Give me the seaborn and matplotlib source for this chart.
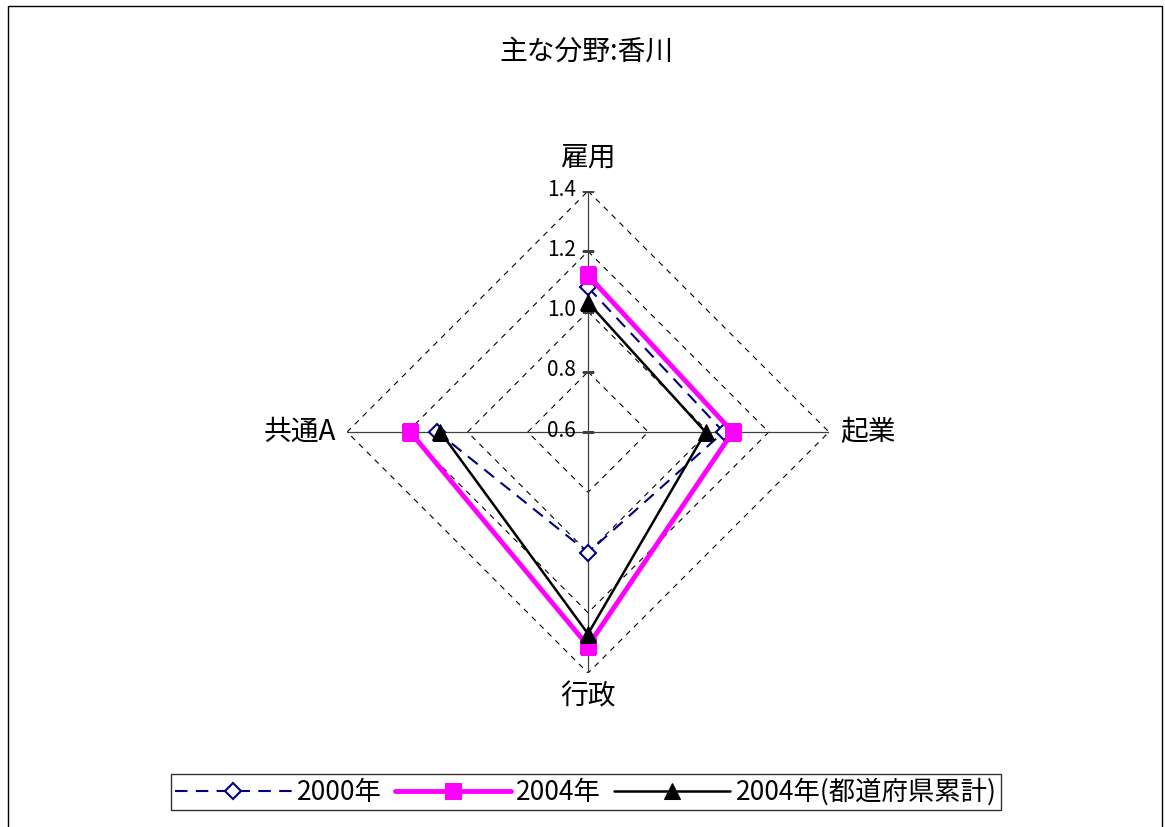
import numpy as np
import pandas as pd
import matplotlib
matplotlib.use('Agg')
import matplotlib.pyplot as plt
from matplotlib.patches import Rectangle
import seaborn as sns

sns.set_style('white')
plt.rcParams['font.family'] = ['Noto Sans CJK JP', 'DejaVu Sans']
plt.rcParams['text.color'] = 'black'

title = "主な分野:香川"
categories = ["雇用", "起業", "行政", "共通A"]
levels = [0.6, 0.8, 1.0, 1.2, 1.4]
level_labels = ["0.6", "0.8", "1.0", "1.2", "1.4"]

series_names = ["2000年", "2004年", "2004年(都道府県累計)"]
vals_2000 = [1.08, 1.05, 1.00, 1.10]
vals_2004 = [1.12, 1.08, 1.31, 1.19]
vals_2004_total = [1.03, 0.99, 1.27, 1.09]

n = len(categories)
theta = np.arange(n) * 2 * np.pi / n
theta_closed = np.append(theta, theta[0])

fig = plt.figure(figsize=(11.65, 8.27), dpi=100)
ax = fig.add_axes([0.2979, 0.1862, 0.4137, 0.5828], projection='polar')
ax.set_theta_zero_location('N')
ax.set_theta_direction(-1)
ax.set_ylim(levels[0], levels[-1])
ax.grid(False)
ax.spines['polar'].set_visible(False)
ax.patch.set_alpha(0)

# dashed diamond gridlines
for lv in levels[1:]:
    ax.plot(theta_closed, [lv] * (n + 1), color='black', lw=0.8,
            linestyle=(0, (5, 5)), zorder=1)
# axis spokes
for t in theta:
    ax.plot([t, t], [levels[0], levels[-1]], color='#404040', lw=0.9, zorder=1)
# tick marks and labels on the vertical axis
ax.plot([0] * len(levels), levels, linestyle='none', marker='_',
        markersize=8, color='#404040', zorder=1)
for lv, lab in zip(levels, level_labels):
    ax.annotate(lab, xy=(0, lv), xytext=(-9, 1), textcoords='offset points',
                ha='right', va='center', fontsize=15)

# category labels
offsets = [((0, 13), 'center', 'bottom'), ((8, 0), 'left', 'center'),
           ((0, -6), 'center', 'top'), ((-8, 0), 'right', 'center')]
for t, cat, (off, ha, va) in zip(theta, categories, offsets):
    ax.annotate(cat, xy=(t, levels[-1]), xytext=off, textcoords='offset points',
                ha=ha, va=va, fontsize=20)

styles = [
    dict(color='#000080', lw=1.5, linestyle=(0, (6, 4)), marker='D',
         markersize=8, markerfacecolor='white', markeredgecolor='#000080',
         markeredgewidth=1.5),
    dict(color='#FF00FF', lw=3.5, linestyle='-', marker='s', markersize=11,
         markerfacecolor='#FF00FF', markeredgecolor='#FF00FF'),
    dict(color='black', lw=1.8, linestyle='-', marker='^', markersize=11,
         markerfacecolor='black', markeredgecolor='black'),
]
for name, vals, st in zip(series_names, [vals_2000, vals_2004, vals_2004_total], styles):
    df = pd.DataFrame({'theta': theta_closed, 'value': np.append(vals, vals[0])})
    sns.lineplot(data=df, x='theta', y='value', sort=False, ax=ax, label=name,
                 zorder=3, **st)

ax.set_xlabel('')
ax.set_ylabel('')
ax.set_xticks([])
ax.set_yticks([])

handles, labels = ax.get_legend_handles_labels()
ax.get_legend().remove()
leg = fig.legend(handles, labels, loc='center', bbox_to_anchor=(0.503, 0.0423),
                 ncol=3, fontsize=19, frameon=True, fancybox=False,
                 handlelength=4.4, handletextpad=0.2, columnspacing=0.5,
                 borderpad=0.15, numpoints=1)
leg.get_frame().set_edgecolor('black')
leg.get_frame().set_linewidth(1.0)

fig.text(0.503, 0.937, title, ha='center', va='center', fontsize=20)

fig.patches.append(Rectangle((0.007, -0.01), 0.99, 1.003, transform=fig.transFigure,
                             fill=False, edgecolor='black', lw=1.0))

fig.savefig('out.png', dpi=100)
